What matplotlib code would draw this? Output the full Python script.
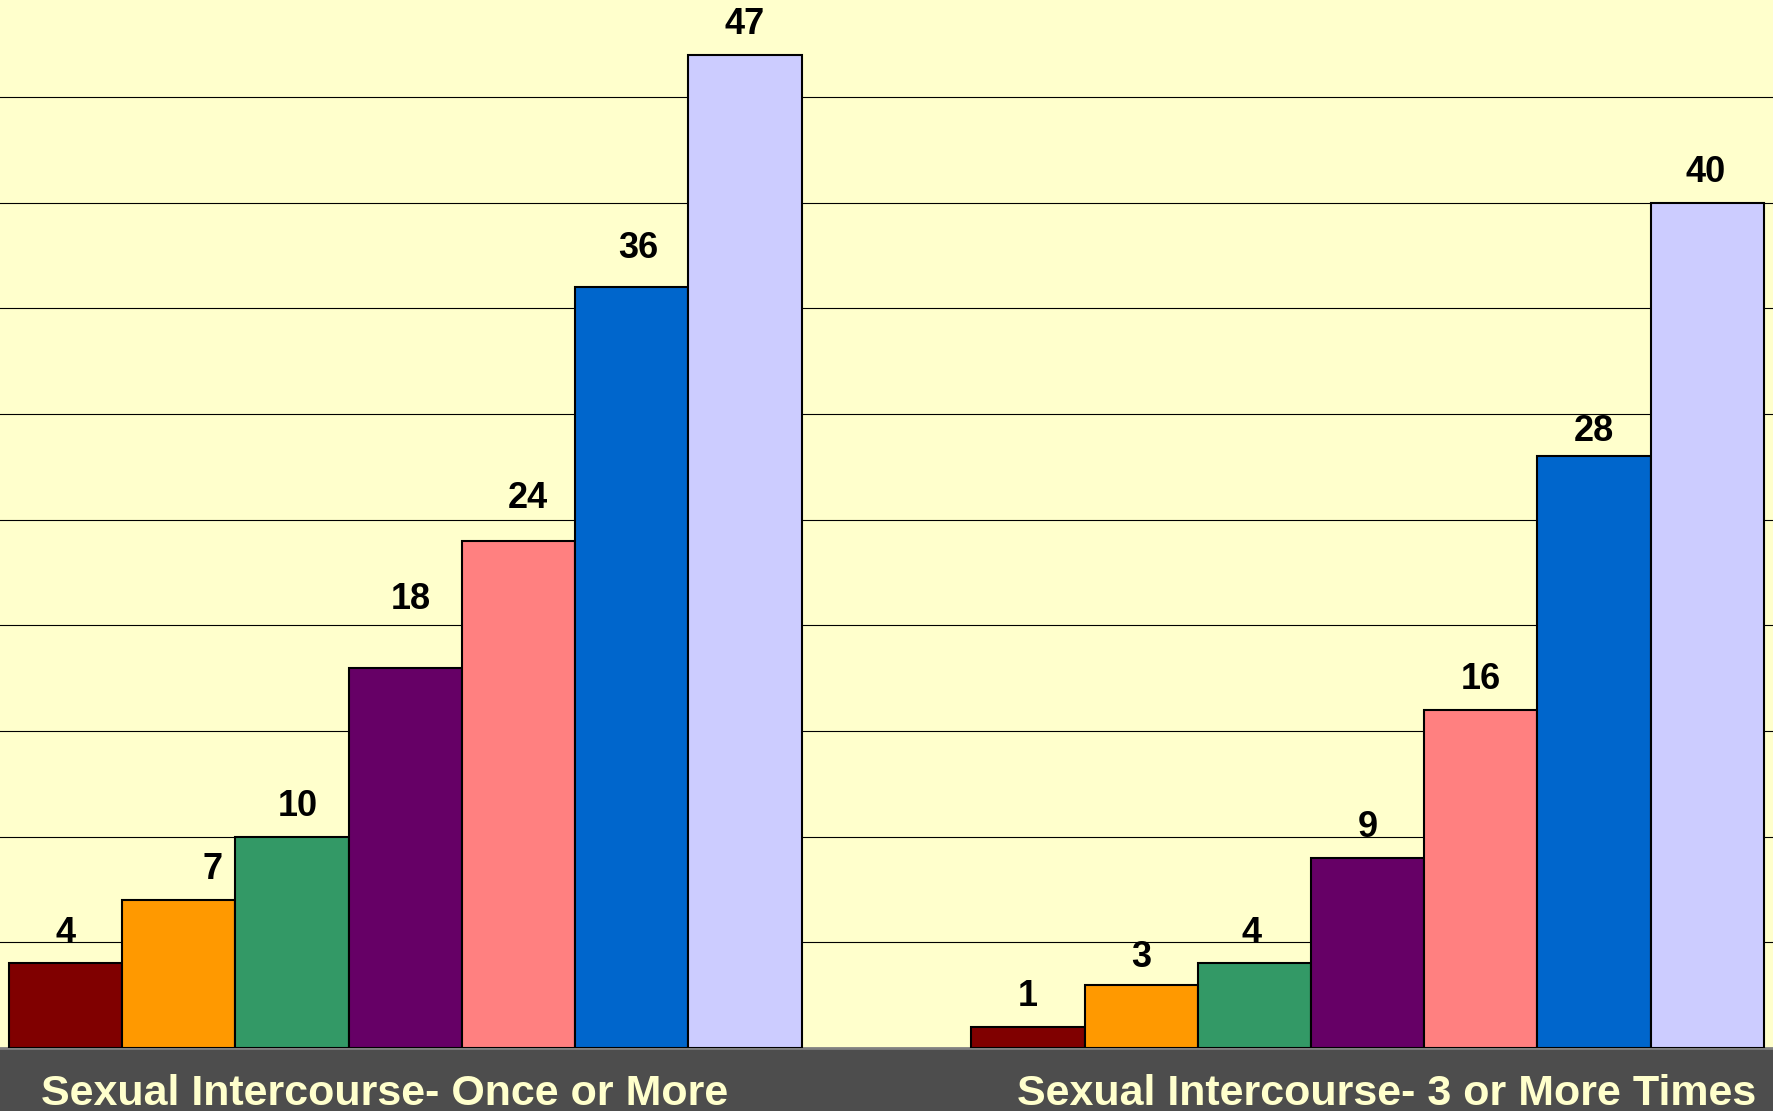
import matplotlib.pyplot as plt
from matplotlib.transforms import blended_transform_factory

# data
groups = ["Sexual Intercourse- Once or More", "Sexual Intercourse- 3 or More Times"]
once_or_more = [4, 7, 10, 18, 24, 36, 47]
three_or_more = [1, 3, 4, 9, 16, 28, 40]
bar_colors = ["#800000", "#FF9900", "#339966", "#660066", "#FF8080", "#0066CC", "#CCCCFF"]

# hand nudges (points) for value labels that were dragged around in the original
label_lift = [[0, 0, 0, 27, 9, 6, 0], [0, -2, 0, 0, 0, -4, 0]]
label_slide = [[0, 24, 4, 4, 7, 5, 0], [0, 0, -2, 0, 0, 0, -1]]
group_label_nudge = [-0.18, 0.17]

fig = plt.figure(figsize=(17.74, 11.11), dpi=100)
fig.patch.set_facecolor("#4D4D4D")
ax = fig.add_axes([0, 63 / 1111, 1, 1 - 63 / 1111])
ax.set_facecolor("#FFFFCC")

n = len(once_or_more)
group_gap = 1.5  # space between the two clusters, in bar widths
trans = blended_transform_factory(ax.transData, fig.transFigure)
for g, values in enumerate([once_or_more, three_or_more]):
    start = g * (n + group_gap)
    xs = [start + i for i in range(n)]
    ax.bar(xs, values, width=1.0, color=bar_colors, edgecolor="black",
           linewidth=1.5, zorder=3)
    for x, v, dy, dx in zip(xs, values, label_lift[g], label_slide[g]):
        ax.annotate(str(v), (x, v), xytext=(dx, 15 + dy), textcoords="offset points",
                    ha="center", va="baseline", fontsize=26, fontweight="bold",
                    family="Liberation Sans", color="black", zorder=4)
    # category label sits in the dark band under the plot
    ax.text(start + (n - 1) / 2 + group_label_nudge[g], 6 / 1111, groups[g],
            transform=trans, ha="center", va="baseline", fontsize=31,
            fontweight="bold", family="Liberation Sans", color="#FFFFCC",
            clip_on=False)

ax.set_xlim(-0.58, 2 * n + group_gap - 1 + 0.59)
ax.set_ylim(0, 49.6)
ax.set_yticks(range(5, 50, 5))
ax.yaxis.grid(True, color="black", linewidth=0.8, zorder=0)
ax.set_axisbelow(True)
ax.tick_params(left=False, bottom=False, labelleft=False, labelbottom=False)
for side in ["top", "left", "right"]:
    ax.spines[side].set_visible(False)
ax.spines["bottom"].set_color("#808080")
ax.spines["bottom"].set_linewidth(2)

fig.savefig("out.png", dpi=100, facecolor=fig.get_facecolor())
